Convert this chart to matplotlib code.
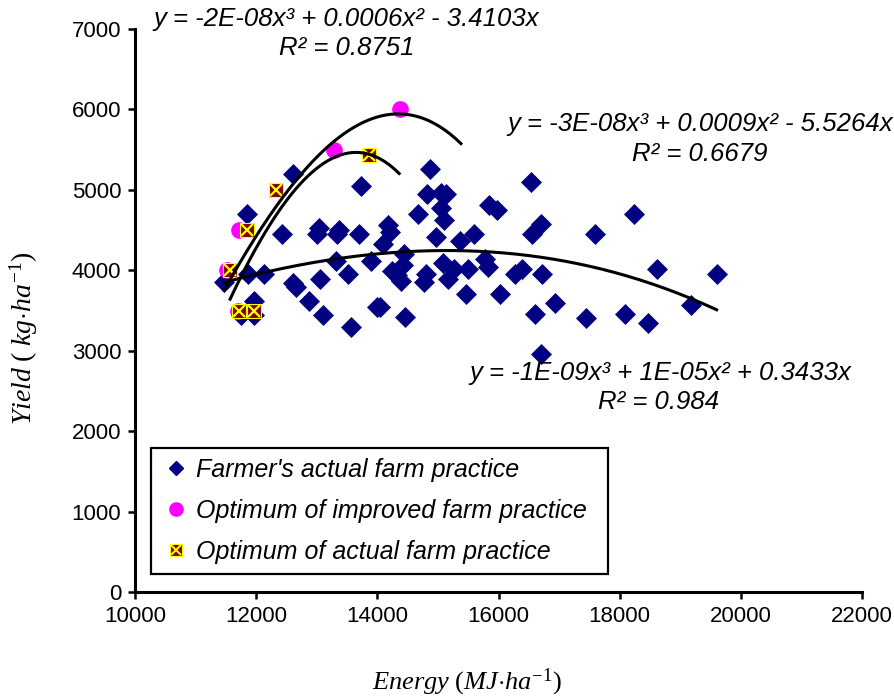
import numpy as np
import matplotlib
matplotlib.use("Agg")
import matplotlib.pyplot as plt
from matplotlib.legend_handler import HandlerTuple

# ---------------- data ----------------
farmer_energy = [11470, 11850, 11870, 12130, 12610, 12430, 11970, 11750, 11970, 12610,
                 12650, 12880, 13110, 13560, 13030, 13010, 13330, 13360, 13050, 13310,
                 13510, 13690, 13730, 13890, 13990, 14090, 14180, 14210, 14870, 14820,
                 15050, 15140, 15050, 15100, 14670, 14970, 15370, 15600, 15850, 15980,
                 16530, 16700, 16550, 14440, 14420, 14240, 14320, 14390, 15090, 15270,
                 15500, 15780, 15820, 14800, 14770, 15170, 16270, 16380, 16710, 15470,
                 16020, 14040, 14460, 16600, 16700, 18240, 17590, 18620, 19600, 16930,
                 17440, 18080, 18470, 19170]
farmer_yield = [3860, 4700, 3960, 3960, 5200, 4450, 3620, 3440, 3450, 3840,
                3790, 3620, 3450, 3300, 4530, 4450, 4450, 4500, 3890, 4120,
                3960, 4450, 5050, 4120, 3540, 4330, 4560, 4470, 5260, 4950,
                4960, 4950, 4780, 4630, 4700, 4410, 4370, 4450, 4810, 4750,
                5100, 4580, 4450, 4200, 4060, 3990, 3940, 3870, 4090, 4020,
                4020, 4140, 4040, 3960, 3850, 3890, 3960, 4020, 3960, 3710,
                3710, 3540, 3420, 3460, 2960, 4700, 4450, 4020, 3960, 3590,
                3410, 3460, 3340, 3570]

improved_energy = [11520, 11720, 11700, 13280, 14380]
improved_yield = [4000, 4500, 3500, 5500, 6000]

actual_opt_energy = [11570, 11850, 11720, 11960, 12320, 13860]
actual_opt_yield = [4000, 4500, 3500, 3500, 5000, 5430]

# linear coefficients as printed in the trendline equations
lin_improved = -3.4103
lin_actual = -5.5264
lin_farmer = 0.3433

x_ticks = [10000, 12000, 14000, 16000, 18000, 20000, 22000]
y_ticks = [0, 1000, 2000, 3000, 4000, 5000, 6000, 7000]

labels = ["Farmer's actual farm practice",
          "Optimum of improved farm practice",
          "Optimum of actual farm practice"]

eq_top = ("y = -2E-08x\u00b3 + 0.0006x\u00b2 - 3.4103x", "R\u00b2 = 0.8751")
eq_mid = ("y = -3E-08x\u00b3 + 0.0009x\u00b2 - 5.5264x", "R\u00b2 = 0.6679")
eq_low = ("y = -1E-09x\u00b3 + 1E-05x\u00b2 + 0.3433x", "R\u00b2 = 0.984")

# ---------------- style ----------------
plt.rcParams['mathtext.fontset'] = 'custom'
plt.rcParams['mathtext.rm'] = 'Liberation Serif'
plt.rcParams['mathtext.it'] = 'Liberation Serif:italic'
plt.rcParams['font.family'] = ['Liberation Sans', 'DejaVu Sans']

W, H = 895, 696
fig = plt.figure(figsize=(W / 100, H / 100), dpi=100)
ax = fig.add_axes([135 / W, 1 - 592 / H, (862 - 135) / W, (592 - 29) / H])


def fit_cubic0(x, y, lin):
    """Least-squares a*x^3 + b*x^2 with the printed linear term, zero intercept."""
    xs = np.asarray(x, float) / 1000.0
    C = lin * 1000.0
    r = np.asarray(y, float) - C * xs
    A = np.column_stack([xs ** 3, xs ** 2])
    c, *_ = np.linalg.lstsq(A, r, rcond=None)
    return np.array([c[0], c[1], C])


def eval_cubic0(c, x):
    xs = np.asarray(x, float) / 1000.0
    return c[0] * xs ** 3 + c[1] * xs ** 2 + c[2] * xs


navy = '#000080'
ax.plot(farmer_energy, farmer_yield, linestyle='none', marker='D', ms=10,
        mfc=navy, mec=navy, mew=0.5, zorder=3)
ax.plot(improved_energy, improved_yield, linestyle='none', marker='o', ms=11,
        mfc='#FF00FF', mec='#FF00FF', zorder=4)
ax.plot(actual_opt_energy, actual_opt_yield, linestyle='none', marker='s', ms=10,
        mfc='#800000', mec='#FFFF00', mew=0.8, zorder=5)
ax.plot(actual_opt_energy, actual_opt_yield, linestyle='none', marker='x', ms=8.5,
        mec='#FFFF00', mew=1.6, zorder=6)

# trendlines (polynomial order 3, intercept 0)
c_imp = fit_cubic0(improved_energy, improved_yield, lin_improved)
xi = np.linspace(min(improved_energy) - 50, max(improved_energy) + 1000, 200)
ax.plot(xi, eval_cubic0(c_imp, xi), color='black', lw=2.2, zorder=7)

c_act = fit_cubic0(actual_opt_energy, actual_opt_yield, lin_actual)
xa = np.linspace(min(actual_opt_energy), max(actual_opt_energy) + 500, 200)
ax.plot(xa, eval_cubic0(c_act, xa), color='black', lw=2.2, zorder=7)

c_far = fit_cubic0(farmer_energy, farmer_yield, lin_farmer)
xf = np.linspace(min(farmer_energy), max(farmer_energy), 200)
ax.plot(xf, eval_cubic0(c_far, xf), color='black', lw=2.2, zorder=7)

# axes
ax.set_xlim(10000, 22000)
ax.set_ylim(0, 7000)
ax.set_xticks(x_ticks)
ax.set_yticks(y_ticks)
ax.set_xticklabels([str(v) for v in x_ticks])
ax.set_yticklabels([str(v) for v in y_ticks])
for s in ['top', 'right']:
    ax.spines[s].set_visible(False)
for s in ['left', 'bottom']:
    ax.spines[s].set_linewidth(2.2)
ax.tick_params(axis='both', direction='out', length=5, width=1.8, labelsize=16,
               pad=5)

ax.set_xlabel(r'$\mathit{Energy\ (MJ{\cdot}ha^{-1})}$', fontsize=19, va='center')
ax.xaxis.set_label_coords((467 - 135) / 727, (592 - 682) / 563)
ax.set_ylabel(r'$\mathit{Yield\ (\ kg{\cdot}ha^{-1})}$', fontsize=20, va='center')
ax.yaxis.set_label_coords((24 - 135) / 727, (592 - 338) / 563)

# equations
eq_kw = dict(fontsize=18.5, style='italic', ha='center', va='center',
             transform=fig.transFigure)


def ftxt(x, y, s):
    fig.text(x / W, 1 - y / H, s, **eq_kw)


ftxt(346, 19, eq_top[0]); ftxt(347, 48, eq_top[1])
ftxt(700, 124, eq_mid[0]); ftxt(700, 154, eq_mid[1])
ftxt(660, 373, eq_low[0]); ftxt(659, 402, eq_low[1])

# legend
h1 = plt.Line2D([], [], linestyle='none', marker='D', ms=7.5, mfc=navy, mec=navy)
h2 = plt.Line2D([], [], linestyle='none', marker='o', ms=9.5, mfc='#FF00FF', mec='#FF00FF')
h3a = plt.Line2D([], [], linestyle='none', marker='s', ms=8.5, mfc='#800000', mec='#FFFF00', mew=0.8)
h3b = plt.Line2D([], [], linestyle='none', marker='x', ms=7, mec='#FFFF00', mew=1.4)
leg = ax.legend([h1, h2, (h3a, h3b)], labels,
                handler_map={tuple: HandlerTuple(ndivide=1, pad=0)},
                loc='lower left',
                bbox_to_anchor=((151 - 135) / 727, (592 - 574) / 563,
                                (608 - 151) / 727, 0.2),
                mode='expand', borderaxespad=0,
                prop={'family': 'Liberation Sans', 'style': 'italic', 'size': 18},
                frameon=True, fancybox=False, edgecolor='black', framealpha=1,
                handlelength=1.2, handletextpad=0.2, labelspacing=0.68,
                borderpad=0.4)
leg.get_frame().set_linewidth(1.6)

fig.savefig('out.png', dpi=100)
